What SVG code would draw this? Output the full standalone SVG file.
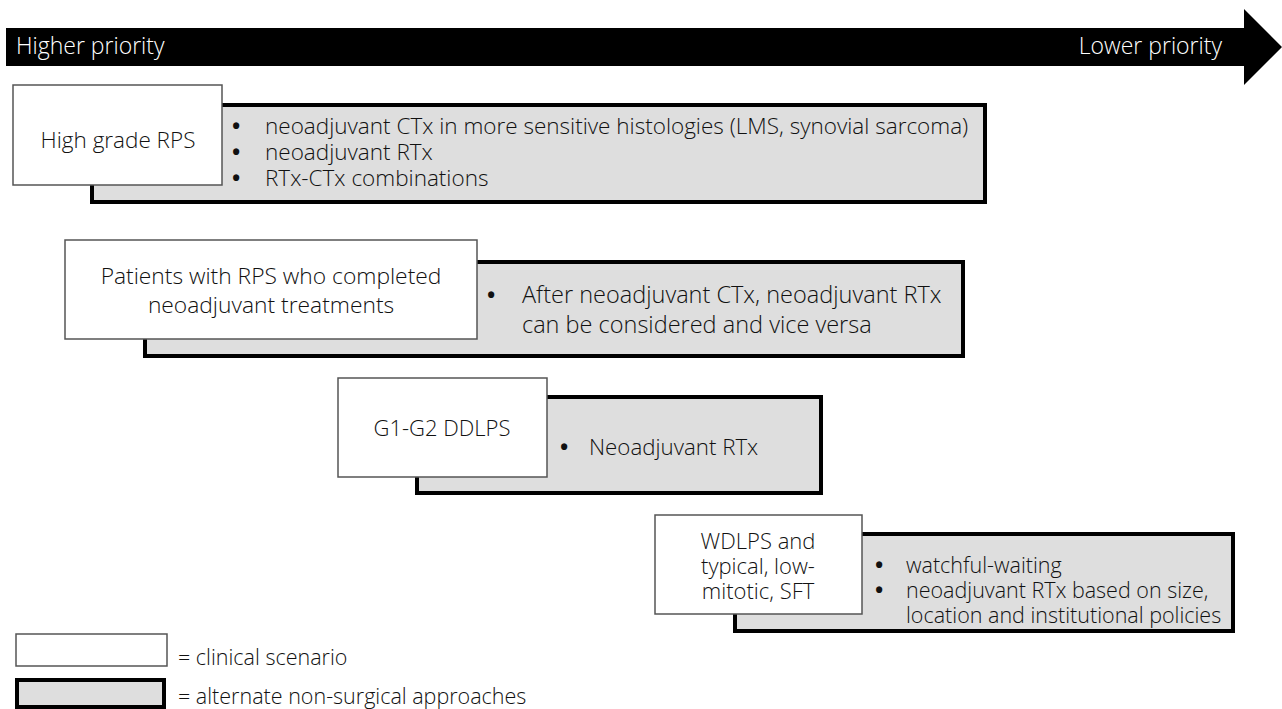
<svg xmlns="http://www.w3.org/2000/svg" width="1282" height="709" viewBox="0 0 1282 709">
<style>
text{font-family:"Open Sans","Noto Sans","Liberation Sans",sans-serif;font-size:21.5px;font-weight:300;fill:#111;}
.c{text-anchor:middle;font-size:22px;}
.b{font-weight:700;font-size:22px;}
.h{fill:#fff;font-size:23px;}
.scn{fill:#fff;stroke:#555;stroke-width:1.5;}
.alt{fill:#dedede;stroke:#000;stroke-width:4;}
</style>
<rect width="1282" height="709" fill="#fff"/>
<g id="priority-arrow">
<polygon points="6,28 1244,28 1244,9 1282,47 1244,85 1244,66 6,66" fill="#000"/>
<text class="h" x="16" y="54">Higher priority</text>
<text class="h" x="1222" y="54" text-anchor="end">Lower priority</text>
</g>
<g id="connectors"></g>
<g id="node1" style="font-size:22.5px">
<rect class="alt" x="92" y="105" width="893" height="97"/>
<rect class="scn" x="13" y="85" width="209" height="100"/>
<text class="c" x="118" y="148" style="font-size:22.5px">High grade RPS</text>
<text class="b" x="232" y="134">•</text><text x="265" y="134" style="font-size:22.5px">neoadjuvant CTx in more sensitive histologies (LMS, synovial sarcoma)</text>
<text class="b" x="232" y="160">•</text><text x="265" y="160" style="font-size:22.5px">neoadjuvant RTx</text>
<text class="b" x="232" y="186">•</text><text x="265" y="186" style="font-size:22.5px">RTx-CTx combinations</text>
</g>
<g id="node2">
<rect class="alt" x="145" y="262" width="818" height="94"/>
<rect class="scn" x="65" y="240" width="412" height="99"/>
<text class="c" x="271" y="284" style="font-size:22.8px">Patients with RPS who completed</text>
<text class="c" x="271" y="313" style="font-size:22.8px">neoadjuvant treatments</text>
<text class="b" x="487" y="303">•</text><text x="522" y="303" style="font-size:23.5px">After neoadjuvant CTx, neoadjuvant RTx</text>
<text x="522" y="333" style="font-size:23.5px">can be considered and vice versa</text>
</g>
<g id="node3">
<rect class="alt" x="417" y="397" width="404" height="96"/>
<rect class="scn" x="338" y="378" width="209" height="99"/>
<text class="c" x="442" y="436">G1-G2 DDLPS</text>
<text class="b" x="560" y="455">•</text><text x="589" y="455" style="font-size:22.3px">Neoadjuvant RTx</text>
</g>
<g id="node4">
<rect class="alt" x="735" y="534" width="498" height="97"/>
<rect class="scn" x="655" y="515" width="207" height="99"/>
<text class="c" x="758" y="549">WDLPS and</text>
<text class="c" x="758" y="574">typical, low-</text>
<text class="c" x="758" y="599">mitotic, SFT</text>
<text class="b" x="875" y="573">•</text><text x="906" y="573">watchful-waiting</text>
<text class="b" x="875" y="598">•</text><text x="906" y="598">neoadjuvant RTx based on size,</text>
<text x="906" y="623">location and institutional policies</text>
</g>
<g id="legend">
<rect class="scn" x="16" y="634" width="151" height="32"/>
<text x="178" y="665">= clinical scenario</text>
<rect class="alt" x="17" y="680" width="147" height="27"/>
<text x="178" y="704">= alternate non-surgical approaches</text>
</g>
</svg>
